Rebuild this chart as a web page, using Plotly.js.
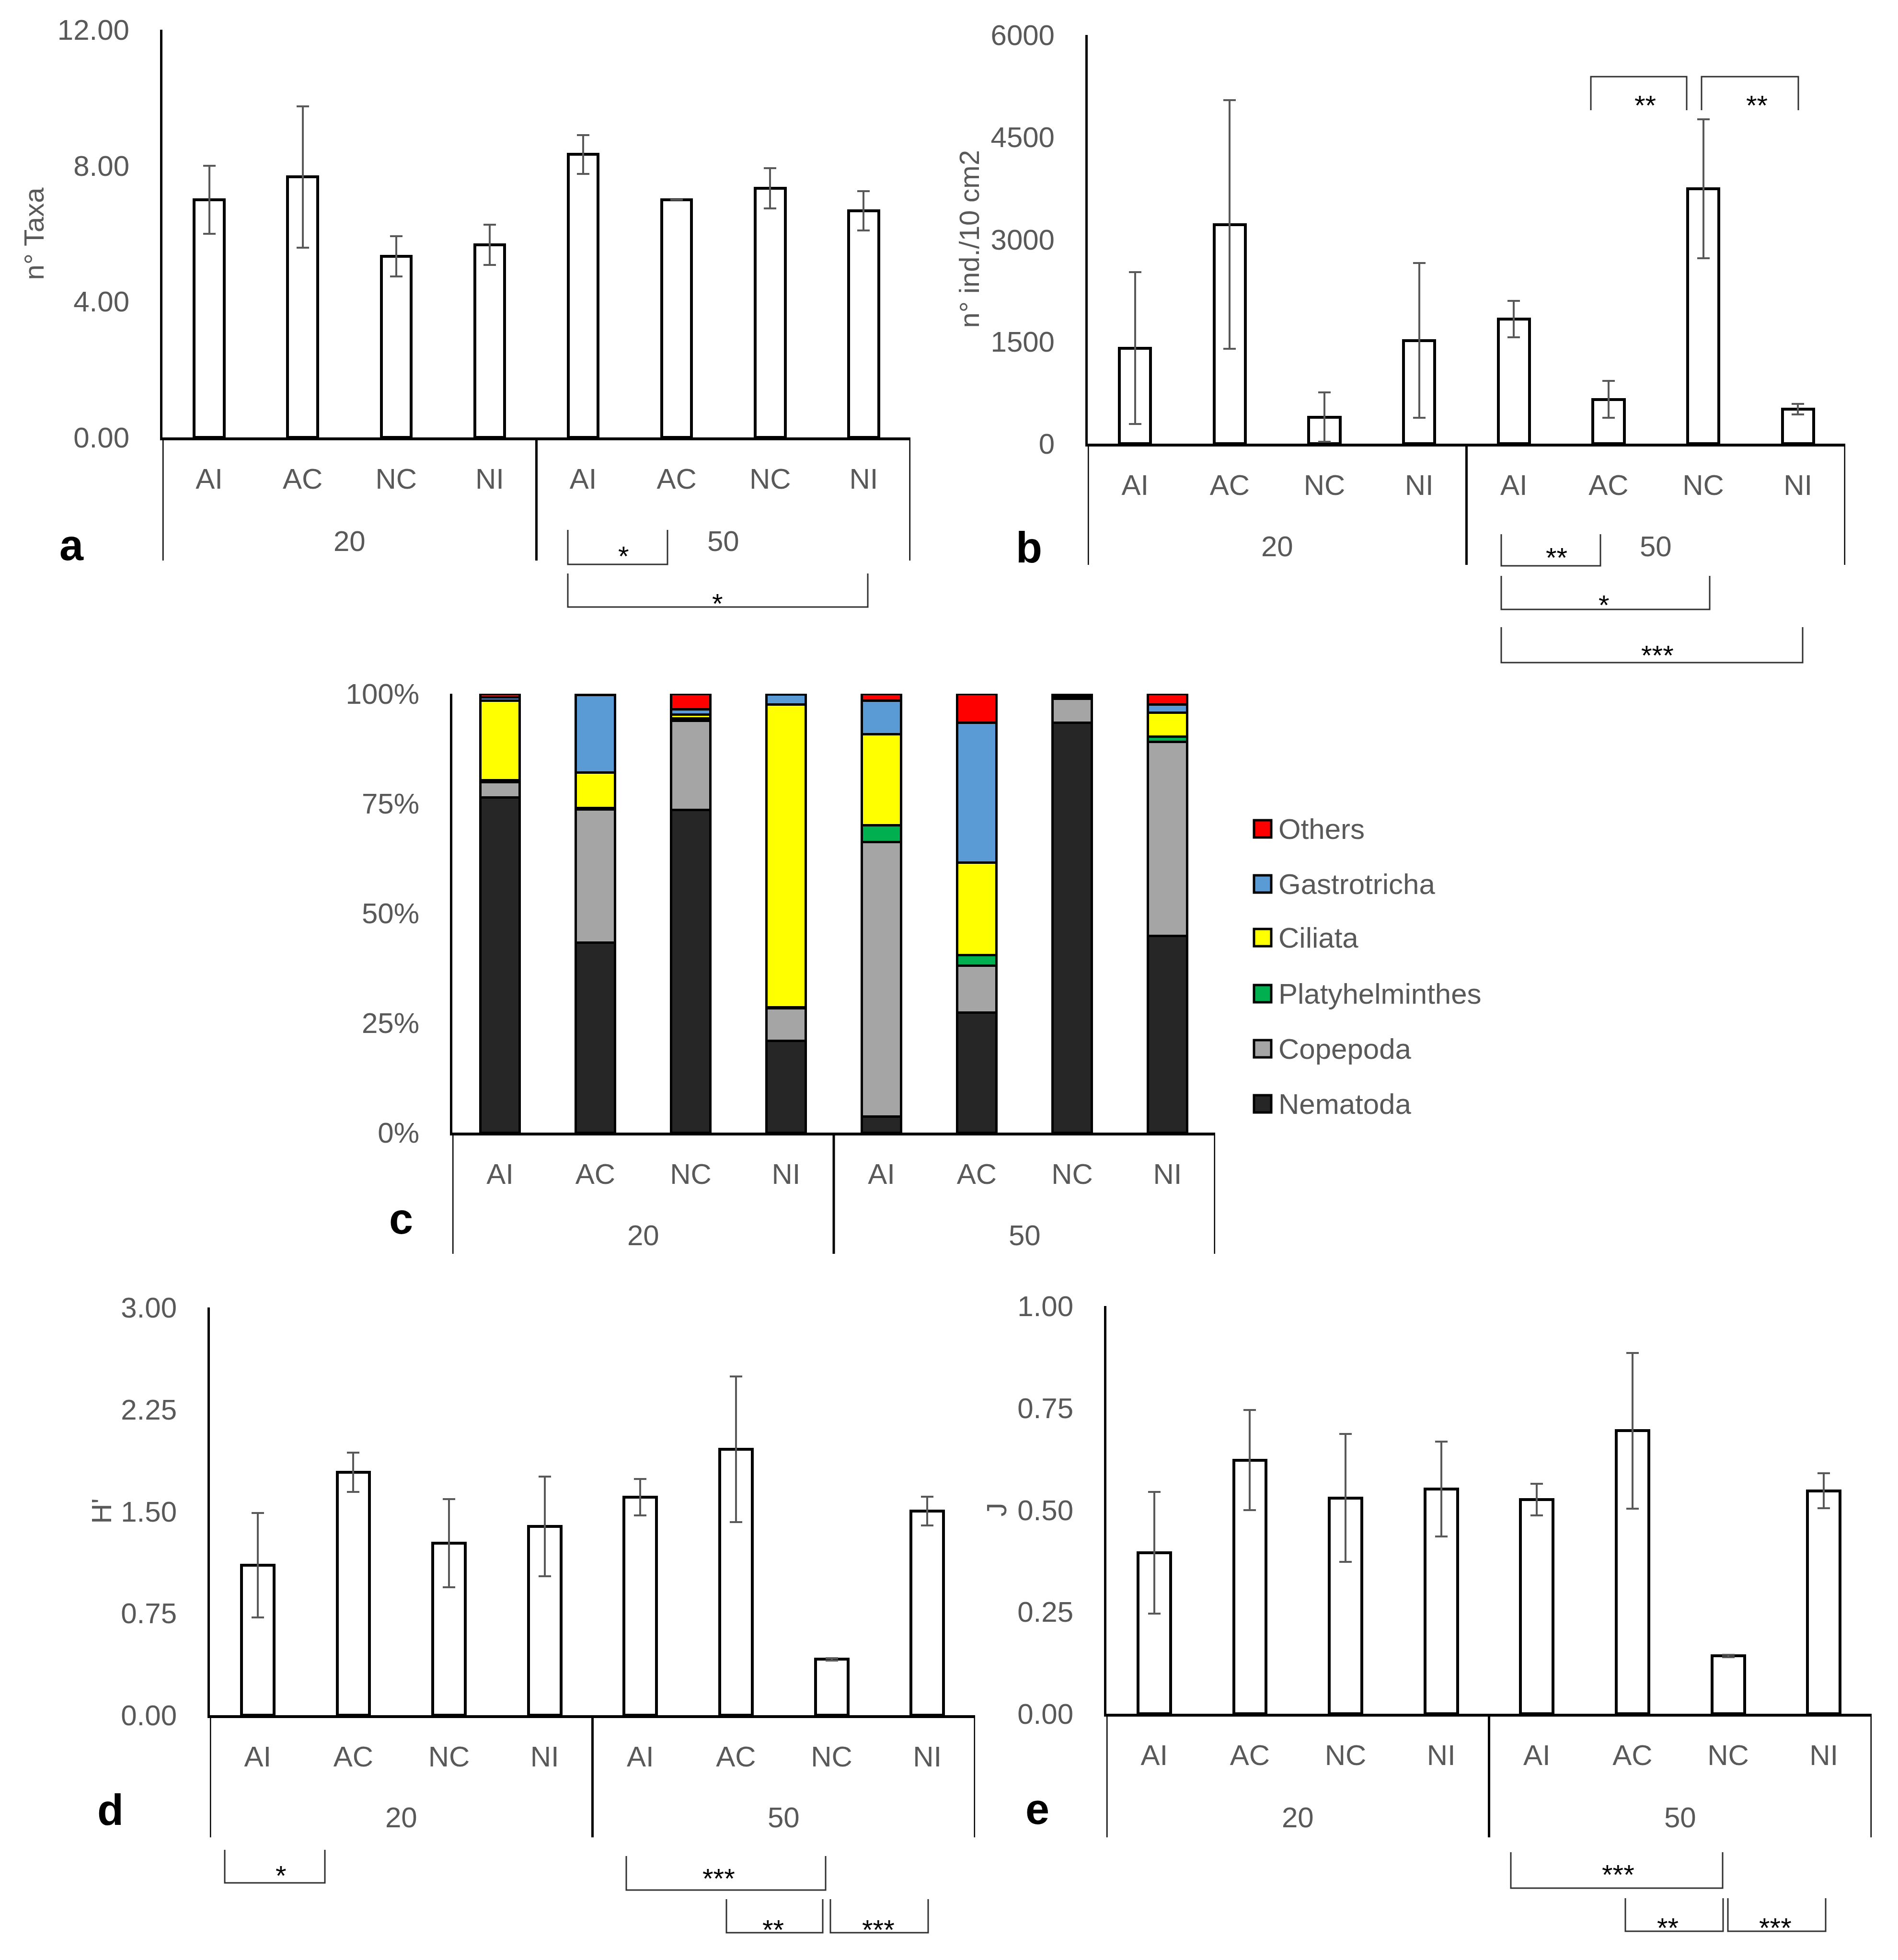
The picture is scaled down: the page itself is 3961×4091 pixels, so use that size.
<!DOCTYPE html>
<html>
<head>
<meta charset="utf-8">
<script src="https://cdn.plot.ly/plotly-3.0.1.min.js"></script>
<style>html,body{margin:0;padding:0;background:#fff;}</style>
</head>
<body>
<div id="chart" style="width:3961px;height:4091px;"></div>
<script>
// ---------------- DATA ----------------
const categories = ['AI', 'AC', 'NC', 'NI', 'AI', 'AC', 'NC', 'NI'];
const depthGroups = ['20', '50'];

// a: number of taxa
const taxaMean = [7.00, 7.67, 5.33, 5.67, 8.33, 7.00, 7.33, 6.67];
const taxaErr  = [1.00, 2.08, 0.59, 0.59, 0.57, 0.00, 0.59, 0.58];
const taxaTicks = [0, 4, 8, 12];

// b: density (n° ind./10 cm2)
const densMean = [1400, 3215, 390, 1515, 1830, 650, 3740, 505];
const densErr  = [1115, 1825, 360, 1137, 268, 268, 1020, 77];
const densTicks = [0, 1500, 3000, 4500, 6000];

// c: community composition (%)
const taxaGroups = ['Nematoda', 'Copepoda', 'Platyhelminthes', 'Ciliata', 'Gastrotricha', 'Others'];
const nematoda        = [76.4, 43.3, 73.5, 20.9,  3.7, 27.3, 93.4, 44.8];
const copepoda        = [ 3.5, 30.3, 20.3,  7.4, 62.5, 10.7,  5.4, 44.2];
const platyhelminthes = [ 0.4,  0.4,  0.6,  0.3,  3.8,  2.4,  0.2,  1.2];
const ciliata         = [18.1,  8.0,  0.9, 68.9, 20.8, 21.1,  0.2,  5.5];
const gastrotricha    = [ 0.8, 17.7,  1.1,  2.3,  7.6, 31.9,  0.3,  1.8];
const others          = [ 0.8,  0.3,  3.6,  0.2,  1.6,  6.6,  0.5,  2.5];
const pctTicks = [0, 25, 50, 75, 100];
const pctTickText = ['0%', '25%', '50%', '75%', '100%'];

// d: Shannon H'
const shanMean = [1.104, 1.788, 1.266, 1.389, 1.604, 1.956, 0.411, 1.503];
const shanErr  = [0.385, 0.144, 0.323, 0.367, 0.133, 0.535, 0.010, 0.106];
const shanTicks = [0, 0.75, 1.5, 2.25, 3];

// e: Pielou J
const pielMean = [0.395, 0.622, 0.529, 0.551, 0.525, 0.694, 0.142, 0.547];
const pielErr  = [0.149, 0.123, 0.157, 0.116, 0.039, 0.191, 0.003, 0.043];
const pielTicks = [0, 0.25, 0.5, 0.75, 1];

// significance labels
const sigA = ['*', '*'];
const sigB = ['**', '**', '**', '*', '***'];
const sigD = ['*', '***', '**', '***'];
const sigE = ['***', '**', '***'];

// ---------------- STYLE / LAYOUT ----------------
const W = 3961, H = 4091;
const fx = v => v / W;
const fy = v => 1 - v / H;
const FONT = 'Liberation Sans, Arial, sans-serif';
const GREY = '#595959';
const catIdx = categories.map((c, i) => i);
const perGroup = categories.length / depthGroups.length;
const groupCenters = depthGroups.map((g, k) => k * perGroup + (perGroup - 1) / 2);
const taxaColors = {
  Nematoda: '#262626', Copepoda: '#A5A5A5', Platyhelminthes: '#00B050',
  Ciliata: '#FFFF00', Gastrotricha: '#5B9BD5', Others: '#FF0000'
};
const taxaValues = {
  Nematoda: nematoda, Copepoda: copepoda, Platyhelminthes: platyhelminthes,
  Ciliata: ciliata, Gastrotricha: gastrotricha, Others: others
};

const panels = [
  {n: 1, x0: 339,  x1: 1900, y0: 62,   y1: 913,  ext: 1170, groupY: 1130, ticks: taxaTicks, fmt: '.2f', text: null, mean: taxaMean, err: taxaErr, bw: 0.32, title: 'n° Taxa', titleX: 70, label: 'a', labelX: 149, labelY: 1138},
  {n: 2, x0: 2270, x1: 3851, y0: 73,   y1: 926,  ext: 1179, groupY: 1140, ticks: densTicks, fmt: 'd',   text: null, mean: densMean, err: densErr, bw: 0.33, title: 'n° ind./10 cm2', titleX: 2022, label: 'b', labelX: 2147, labelY: 1143},
  {n: 3, x0: 944,  x1: 2536, y0: 1448, y1: 2364, ext: 2617, groupY: 2578, ticks: pctTicks, fmt: 'd',   text: pctTickText, mean: null, err: null, bw: 0.41, title: null, label: 'c', labelX: 837, labelY: 2544},
  {n: 4, x0: 438,  x1: 2035, y0: 2729, y1: 3580, ext: 3835, groupY: 3793, ticks: shanTicks, fmt: '.2f', text: null, mean: shanMean, err: shanErr, bw: 0.34, title: "H'", titleX: 211, label: 'd', labelX: 230, labelY: 3778},
  {n: 5, x0: 2309, x1: 3906, y0: 2726, y1: 3577, ext: 3835, groupY: 3793, ticks: pielTicks, fmt: '.2f', text: null, mean: pielMean, err: pielErr, bw: 0.34, title: 'J', titleX: 2079, label: 'e', labelX: 2165, labelY: 3776}
];

// brackets (pixel geometry), text from sig arrays
const brackets = [
  {x0: 1185, x1: 1393, yt: 1106, yb: 1178, dir: 'up',   t: sigA[0], tx: 1301, ty: 1148},
  {x0: 1185, x1: 1811, yt: 1197, yb: 1267, dir: 'up',   t: sigA[1], tx: 1497, ty: 1247},
  {x0: 3320, x1: 3520, yt: 160,  yb: 230,  dir: 'down', t: sigB[0], tx: 3433, ty: 207},
  {x0: 3551, x1: 3753, yt: 160,  yb: 230,  dir: 'down', t: sigB[1], tx: 3666, ty: 207},
  {x0: 3133, x1: 3340, yt: 1115, yb: 1181, dir: 'up',   t: sigB[2], tx: 3248, ty: 1152},
  {x0: 3133, x1: 3568, yt: 1202, yb: 1272, dir: 'up',   t: sigB[3], tx: 3347, ty: 1250},
  {x0: 3133, x1: 3762, yt: 1309, yb: 1383, dir: 'up',   t: sigB[4], tx: 3459, ty: 1355},
  {x0: 469,  x1: 678,  yt: 3861, yb: 3930, dir: 'up',   t: sigD[0], tx: 586,  ty: 3902},
  {x0: 1307, x1: 1723, yt: 3874, yb: 3945, dir: 'up',   t: sigD[1], tx: 1500, ty: 3908},
  {x0: 1516, x1: 1717, yt: 3964, yb: 4034, dir: 'up',   t: sigD[2], tx: 1613, ty: 4015},
  {x0: 1733, x1: 1937, yt: 3964, yb: 4034, dir: 'up',   t: sigD[3], tx: 1833, ty: 4015},
  {x0: 3153, x1: 3595, yt: 3866, yb: 3941, dir: 'up',   t: sigE[0], tx: 3377, ty: 3900},
  {x0: 3392, x1: 3596, yt: 3962, yb: 4031, dir: 'up',   t: sigE[1], tx: 3480, ty: 4011},
  {x0: 3606, x1: 3810, yt: 3962, yb: 4031, dir: 'up',   t: sigE[2], tx: 3705, ty: 4011}
];

const legendRows = [1730, 1845, 1957, 2074, 2189, 2304];

// ---------------- BUILD ----------------
const traces = [];
const layout = {
  width: W, height: H,
  margin: {l: 0, r: 0, t: 0, b: 0},
  paper_bgcolor: 'white', plot_bgcolor: 'rgba(0,0,0,0)',
  barmode: 'stack', showlegend: false,
  font: {family: FONT, color: GREY, size: 60},
  shapes: [], annotations: []
};

panels.forEach(p => {
  const sx = p.n === 1 ? '' : String(p.n);
  const xa = 'x' + sx, ya = 'y' + sx;
  layout['xaxis' + sx] = {
    domain: [fx(p.x0), fx(p.x1)], anchor: ya, range: [-0.5, categories.length - 0.5],
    tickmode: 'array', tickvals: catIdx, ticktext: categories, ticks: '',
    showline: true, linecolor: 'black', linewidth: 6, showgrid: false, zeroline: false,
    tickfont: {family: FONT, size: 60, color: GREY}, ticklabelstandoff: 29, fixedrange: true
  };
  const yax = {
    domain: [fy(p.y1), fy(p.y0)], anchor: xa, range: [p.ticks[0], p.ticks[p.ticks.length - 1]],
    tickmode: 'array', tickvals: p.ticks, tickformat: p.fmt, ticks: '',
    showline: true, linecolor: 'black', linewidth: 5, showgrid: false, zeroline: false,
    tickfont: {family: FONT, size: 60, color: GREY}, ticklabelstandoff: 52, fixedrange: true
  };
  if (p.text) yax.ticktext = p.text;
  layout['yaxis' + sx] = yax;

  if (p.mean) {
    traces.push({
      type: 'bar', x: catIdx, y: p.mean, xaxis: xa, yaxis: ya, width: p.bw,
      marker: {color: 'white', line: {color: 'black', width: 6}},
      error_y: {type: 'data', array: p.err, visible: true, color: GREY, thickness: 4, width: 13},
      cliponaxis: false, hoverinfo: 'skip', showlegend: false
    });
  } else {
    taxaGroups.forEach(g => {
      traces.push({
        type: 'bar', name: g, x: catIdx, y: taxaValues[g], xaxis: xa, yaxis: ya, width: p.bw,
        marker: {color: taxaColors[g], line: {color: 'black', width: 5}},
        cliponaxis: false, hoverinfo: 'skip', showlegend: false
      });
    });
  }

  // group dividers
  [-0.5, perGroup - 0.5, categories.length - 0.5].forEach(xv => {
    layout.shapes.push({type: 'line', xref: xa, yref: 'paper', x0: xv, x1: xv,
      y0: fy(p.y1), y1: fy(p.ext), line: {color: 'black', width: 5}});
  });
  // group labels
  depthGroups.forEach((g, k) => {
    layout.annotations.push({xref: xa, yref: 'paper', x: groupCenters[k], y: fy(p.groupY),
      text: g, showarrow: false, xanchor: 'center', yanchor: 'middle',
      font: {family: FONT, size: 60, color: GREY}});
  });
  // panel letter
  layout.annotations.push({xref: 'paper', yref: 'paper', x: fx(p.labelX), y: fy(p.labelY),
    text: '<b>' + p.label + '</b>', showarrow: false, xanchor: 'center', yanchor: 'middle',
    font: {family: FONT, size: 90, color: 'black'}});
  // y title
  if (p.title) {
    layout.annotations.push({xref: 'paper', yref: 'paper', x: fx(p.titleX), y: fy((p.y0 + p.y1) / 2),
      text: p.title, textangle: -90, showarrow: false, xanchor: 'center', yanchor: 'middle',
      font: {family: FONT, size: 58, color: GREY}});
  }
});

// significance brackets
brackets.forEach(b => {
  let path;
  if (b.dir === 'up') {
    path = `M ${fx(b.x0)} ${fy(b.yt)} L ${fx(b.x0)} ${fy(b.yb)} L ${fx(b.x1)} ${fy(b.yb)} L ${fx(b.x1)} ${fy(b.yt)}`;
  } else {
    path = `M ${fx(b.x0)} ${fy(b.yb)} L ${fx(b.x0)} ${fy(b.yt)} L ${fx(b.x1)} ${fy(b.yt)} L ${fx(b.x1)} ${fy(b.yb)}`;
  }
  layout.shapes.push({type: 'path', xref: 'paper', yref: 'paper', path: path,
    line: {color: '#303030', width: 3}});
  layout.annotations.push({xref: 'paper', yref: 'paper', x: fx(b.tx), y: fy(b.ty + 12),
    text: b.t, showarrow: false, xanchor: 'center', yanchor: 'middle',
    font: {family: FONT, size: 58, color: 'black'}});
});

// legend for panel c (top to bottom: reverse stacking order)
taxaGroups.slice().reverse().forEach((g, i) => {
  const yc = legendRows[i];
  layout.shapes.push({type: 'rect', xref: 'paper', yref: 'paper',
    x0: fx(2617), x1: fx(2653), y0: fy(yc + 18), y1: fy(yc - 18),
    fillcolor: taxaColors[g], line: {color: 'black', width: 5}});
  layout.annotations.push({xref: 'paper', yref: 'paper', x: fx(2666), y: fy(yc),
    text: g, showarrow: false, xanchor: 'left', yanchor: 'middle',
    font: {family: FONT, size: 60, color: GREY}});
});

Plotly.newPlot('chart', traces, layout, {staticPlot: true, displayModeBar: false});
</script>
</body>
</html>
